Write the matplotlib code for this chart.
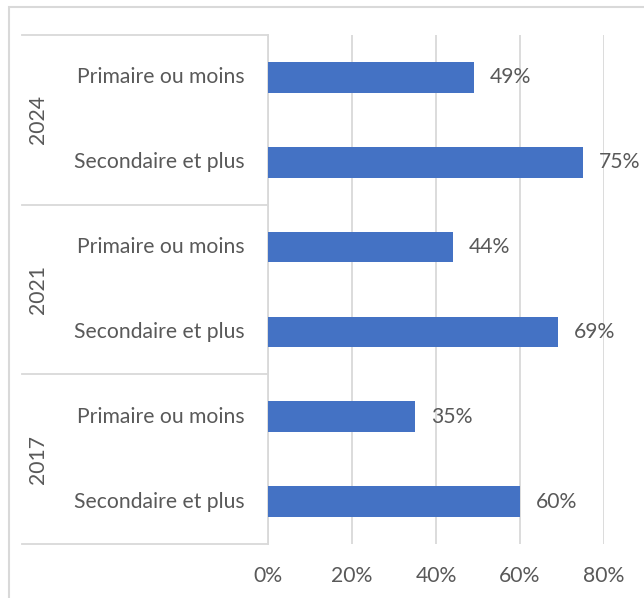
import matplotlib
matplotlib.use('Agg')
import matplotlib.pyplot as plt
from matplotlib.patches import Rectangle
from matplotlib.ticker import FuncFormatter

years = ['2024', '2021', '2017']
levels = ['Primaire ou moins', 'Secondaire et plus']
values = [0.49, 0.75, 0.44, 0.69, 0.35, 0.60]
xticks = [0, 0.2, 0.4, 0.6, 0.8]

TEXT = '#595959'
GRID = '#D9D9D9'
BAR = '#4472C4'
FS = 15.2

plt.rcParams['font.family'] = ['Lato', 'DejaVu Sans']

W, H = 644, 598
fig = plt.figure(figsize=(W / 100, H / 100), dpi=100)
# plot area in pixels
left, right, top, bottom = 268, 604, 35, 544
ax = fig.add_axes([left / W, 1 - bottom / H, (right - left) / W, (bottom - top) / H])

n = len(values)
ypos = list(range(n))
ax.barh(ypos, values, height=0.36, color=BAR, zorder=3)
for y, v in zip(ypos, values):
    ax.annotate(f'{v * 100:.0f}%', (v, y), xytext=(11.5, 0), textcoords='offset points',
                va='center', ha='left', fontsize=FS, color=TEXT)

ax.set_xlim(0, 0.8)
ax.set_ylim(n - 0.5, -0.5)
ax.set_xticks(xticks)
ax.xaxis.set_major_formatter(FuncFormatter(lambda x, p: f'{x * 100:.0f}%'))
ax.tick_params(axis='x', length=0, labelsize=FS, labelcolor=TEXT, pad=16)
ax.set_yticks([])
ax.grid(axis='x', color=GRID, linewidth=1.3, zorder=0)
for s in ['top', 'right', 'bottom']:
    ax.spines[s].set_visible(False)
ax.spines['left'].set_color(GRID)
ax.spines['left'].set_linewidth(1.3)

# multi-level category axis
pw = right - left
x_line = (22 - left) / pw
trans = ax.get_yaxis_transform()
for k in range(len(years) + 1):
    yb = k * 2 - 0.5
    ax.plot([x_line, 0], [yb, yb], transform=trans, color=GRID, lw=1.3, clip_on=False)
for i, y in enumerate(ypos):
    ax.text((245 - left) / pw, y, levels[i % 2], transform=trans, ha='right', va='center',
            fontsize=FS, color=TEXT)
for k, yr in enumerate(years):
    ax.text((38 - left) / pw, k * 2 + 0.5, yr, transform=trans, ha='center', va='center',
            rotation=90, fontsize=FS, color=TEXT)

# chart border
fig.patches.append(Rectangle((9 / W, -0.05), 1.1, 1 - 7 / H + 0.05, transform=fig.transFigure,
                             fill=False, edgecolor=GRID, lw=1.5))

fig.savefig('out.png', dpi=100)
